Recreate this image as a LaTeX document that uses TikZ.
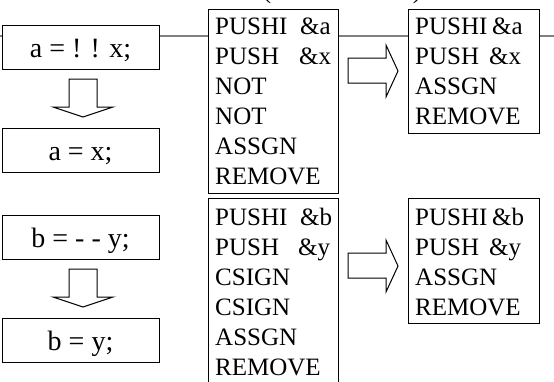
\documentclass[tikz,border=0pt]{standalone}
\usepackage{fontspec}
\setmainfont{Liberation Serif}
\begin{document}
\begin{tikzpicture}[x=1pt,y=-1pt,
  box/.style={draw=black,fill=white,line width=1pt,inner sep=0pt,anchor=north west},
  stmt/.style={anchor=base,inner sep=0pt,font=\fontsize{28}{32}\selectfont},
  paren/.style={anchor=base,inner sep=0pt,font=\fontsize{25}{30}\selectfont},
  code/.style={anchor=north west,inner sep=0pt,align=left,
    font=\fontsize{25}{30}\selectfont},
  blockarrow/.style={draw=black,fill=white,line width=1pt,line join=miter},
  rail/.style={draw=black!50,line width=1.3pt}]
\useasboundingbox (0,0) rectangle (554,381);

% stray brackets of the caption line above
\node[paren] (lpar) at (267,-2) {(};
\node[paren] (rpar) at (417,-2) {)};

% horizontal rail behind the boxes
\coordinate (railL) at (0,36);
\coordinate (railR) at (554,36);
\draw[rail] (railL) -- (railR);

% source statements and their simplified forms
\node[box,minimum width=157pt,minimum height=44pt] (srcA) at (2,25) {};
\node[stmt] (srcAt) at (80.5,57) {a = ! ! x;};
\node[box,minimum width=157pt,minimum height=44pt] (dstA) at (2,128) {};
\node[stmt] (dstAt) at (80.5,160) {a = x;};
\node[box,minimum width=157pt,minimum height=44pt] (srcB) at (2,215) {};
\node[stmt] (srcBt) at (80.5,247) {b = - - y;};
\node[box,minimum width=157pt,minimum height=44pt] (dstB) at (2,318) {};
\node[stmt] (dstBt) at (80.5,350) {b = y;};

% downward block arrows
\draw[blockarrow] (69,79) -- (97,79) -- (97,107) -- (113,107) -- (83,117)
  -- (53,107) -- (69,107) -- cycle;
\draw[blockarrow] (69,269) -- (97,269) -- (97,297) -- (113,297) -- (83,307)
  -- (53,297) -- (69,297) -- cycle;

% generated code before optimisation
\node[box,minimum width=130pt,minimum height=184pt] (codeA) at (208,9) {};
\node[code] (codeAt) at (215,18) {%
  \makebox[85pt][l]{PUSHI}\&a\\
  \makebox[84pt][l]{PUSH}\&x\\
  NOT\\ NOT\\ ASSGN\\ REMOVE};
\node[box,minimum width=130pt,minimum height=200pt] (codeB) at (208,198) {};
\node[code] (codeBt) at (215,208) {%
  \makebox[85pt][l]{PUSHI}\&b\\
  \makebox[83pt][l]{PUSH}\&y\\
  CSIGN\\ CSIGN\\ ASSGN\\ REMOVE};

% rightward block arrows
\draw[blockarrow] (348,58) -- (386,58) -- (386,45) -- (398,71) -- (386,97)
  -- (386,83) -- (348,83) -- cycle;
\draw[blockarrow] (348,253) -- (386,253) -- (386,240) -- (398,266) -- (386,292)
  -- (386,278) -- (348,278) -- cycle;

% generated code after optimisation
\node[box,minimum width=131pt,minimum height=124pt] (optA) at (408,9) {};
\node[code] (optAt) at (415,18) {%
  \makebox[77pt][l]{PUSHI}\&a\\
  \makebox[74pt][l]{PUSH}\&x\\
  ASSGN\\ REMOVE};
\node[box,minimum width=131pt,minimum height=125pt] (optB) at (408,198) {};
\node[code] (optBt) at (415,208) {%
  \makebox[77pt][l]{PUSHI}\&b\\
  \makebox[74pt][l]{PUSH}\&y\\
  ASSGN\\ REMOVE};
\end{tikzpicture}
\end{document}
